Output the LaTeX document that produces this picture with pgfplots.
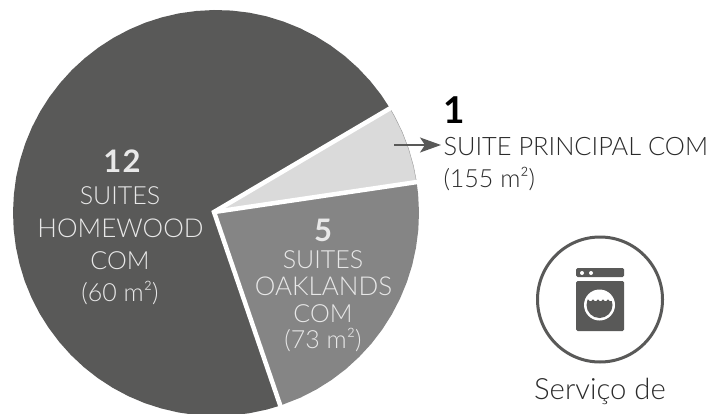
\documentclass[border=0pt]{standalone}
\usepackage{fontspec}
\setmainfont{Lato}[UprightFont=* Light,BoldFont=* Bold]
\usepackage{pgfplots}
\pgfplotsset{compat=1.18}
\usetikzlibrary{arrows.meta}
\definecolor{dk}{HTML}{595958}
\definecolor{md}{HTML}{858585}
\definecolor{lt}{HTML}{DADADA}
\definecolor{tin}{HTML}{E8E8E8}
\definecolor{tout}{HTML}{2B2B2B}
\newfontfamily\fsmall{Lato Light}
\begin{document}
\begin{tikzpicture}
\begin{axis}[scale only axis,width=711pt,height=413pt,
  xmin=-214,xmax=497,ymin=-201,ymax=212,hide axis,clip=true]
% Homewood
\addplot[fill=dk,draw=none,data cs=polar] coordinates {(0,0)
(30.5,204.2)(35,204.1)(40,203.9)(45,203.7)(50,203.5)(55,203.3)(60,203.1)(65,202.9)(70,202.7)(75,202.6)
(80,202.4)(85,202.2)(90,202)(95,201.8)(100,201.7)(105,201.5)(110,201.4)(115,201.2)(120,201.1)(125,201)
(130,200.9)(135,200.9)(140,200.8)(145,200.8)(150,200.8)(155,200.8)(160,200.8)(165,200.8)(170,200.9)(175,200.9)
(180,201)(185,201.1)(190,201.2)(195,201.3)(200,201.5)(205,201.6)(210,201.8)(215,201.9)(220,202.1)(225,202.3)
(230,202.5)(235,202.7)(240,202.9)(245,203.1)(250,203.3)(255,203.4)(260,203.6)(265,203.8)(270,204)(275,204.2)
(280,204.3)(285,204.5)(288.9,204.6)} --cycle;
% Oaklands
\addplot[fill=md,draw=none,data cs=polar] coordinates {(0,0)
(-71.1,204.6)(-65,204.8)(-60,204.9)(-55,205)(-50,205.1)(-45,205.1)(-40,205.2)(-35,205.2)(-30,205.2)(-25,205.2)
(-20,205.2)(-15,205.2)(-10,205.1)(-5,205.1)(0,205)(5,204.9)(8.4,204.8)} --cycle;
% Principal
\addplot[fill=lt,draw=gray!80,line width=0.4pt,data cs=polar] coordinates {(0,0)
(8.4,204.8)(13,204.7)(18,204.6)(23,204.5)(28,204.3)(30.5,204.2)} --cycle;
% white separators
\addplot[draw=white,line width=4.5pt,miter limit=10,data cs=polar] coordinates {(-71.1,207)(0,0)(30.5,207)};
\addplot[draw=white,line width=4.5pt,data cs=polar] coordinates {(0,0)(8.4,207)};
% arrow
\addplot[draw=dk,line width=1.5pt,-{Stealth[length=21pt,width=15pt,inset=5pt]}] coordinates {(180,67)(227,67)};
% labels
\begingroup
\tikzset{every node/.style={inner sep=0pt,outer sep=0pt}}
\node[anchor=base,text=tin,font=\bfseries\fontsize{31}{31}\selectfont] at (-92,39.3) {1\kern1.5pt 2};
\node[anchor=base,text=tin,font=\fsmall\fontsize{25}{25}\selectfont] at (-94,8) {SUITES};
\node[anchor=base,text=tin,font=\fsmall\fontsize{26}{26}\selectfont] at (-93.5,-25) {HOMEWOOD};
\node[anchor=base,text=tin,font=\fsmall\fontsize{25}{25}\selectfont] at (-94,-57) {COM};
\node[anchor=base,text=tin,font=\fsmall\fontsize{25}{25}\selectfont] at (-94,-89) {(60 m²)};
\node[anchor=base,text=tin,font=\bfseries\fontsize{31}{31}\selectfont] at (109,-29) {5};
\node[anchor=base,text=tin,font=\fsmall\fontsize{25}{25}\selectfont] at (109,-56) {SUITES};
\node[anchor=base,text=tin,font=\fsmall\fontsize{26}{26}\selectfont] at (109.5,-83) {OAKLANDS};
\node[anchor=base,text=tin,font=\fsmall\fontsize{25}{25}\selectfont] at (109,-110) {COM};
\node[anchor=base,text=tin,font=\fsmall\fontsize{25}{25}\selectfont] at (109,-136) {(73 m²)};
\node[anchor=base,text=black,font=\bfseries\fontsize{37}{37}\selectfont] at (240,89) {1};
\node[anchor=base west,text=tout,font=\fsmall\fontsize{25.4}{25.4}\selectfont] at (226,57) {SUITE PRINCIPAL COM};
\node[anchor=base west,text=tout,font=\fsmall\fontsize{25}{25}\selectfont] at (226,25) {(155 m²)};
\node[anchor=base,text=tout,font=\fsmall\fontsize{29.3}{29.3}\selectfont] at (386,-187) {Serviço de};
\endgroup
% icon
\draw[dk,line width=3pt] (386,-87.5) circle[radius=62.5pt];
\fill[dk,rounded corners=1.5pt] (362,-56) -- (362,-65) -- (410,-65) -- (410,-56) -- cycle;
\fill[white] (368,-61) circle[radius=2pt] (377,-61) circle[radius=2pt];
\fill[dk,rounded corners=1.5pt] (362,-69) -- (362,-119) -- (410,-119) -- (410,-69) -- cycle;
\fill[white] (385.5,-93) circle[radius=15.5pt];
\begin{scope}
\clip (385.5,-93) circle[radius=13pt];
\fill[dk] (370,-89) rectangle (401,-110);
\fill[dk] (374,-89) circle[radius=1.6pt] (379,-89) circle[radius=1.6pt] (384,-89) circle[radius=1.6pt] (389,-89) circle[radius=1.6pt] (394,-89) circle[radius=1.6pt];
\end{scope}
\end{axis}
\pgfresetboundingbox
\path[use as bounding box] (current axis.south west) rectangle (current axis.north east);
\end{tikzpicture}
\end{document}
